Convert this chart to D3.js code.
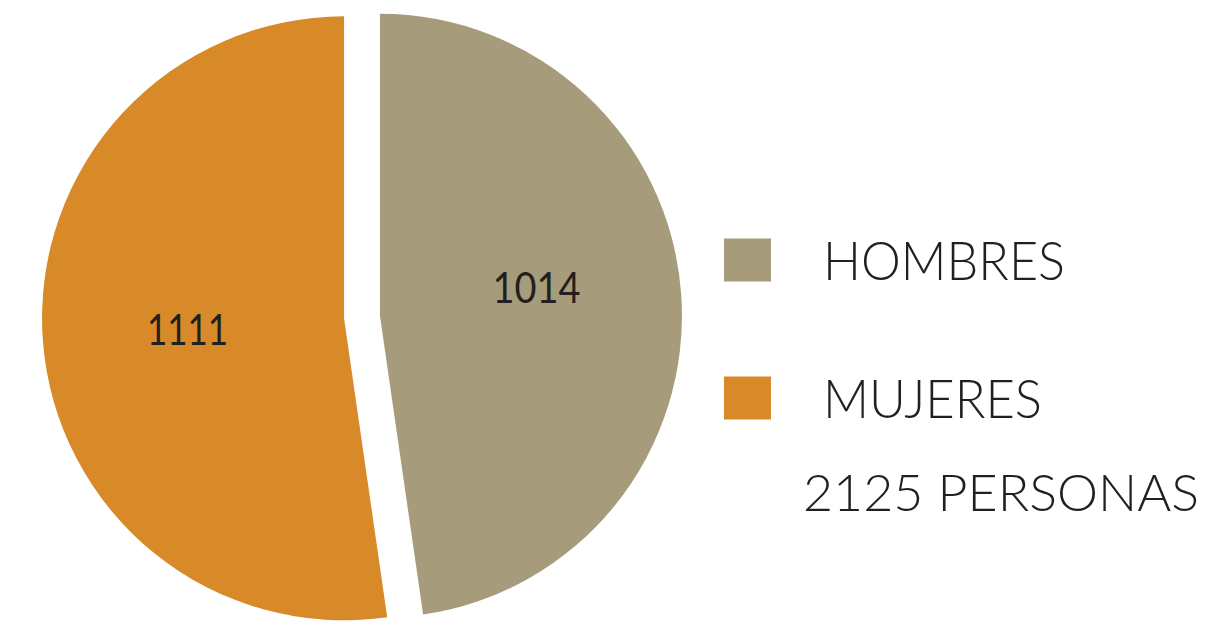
<!DOCTYPE html>
<html>
<head>
<meta charset="utf-8">
<script src="https://cdn.jsdelivr.net/npm/d3@7"></script>
<style>
  body { margin: 0; background: #fff; }
  text { font-family: "Lato", "Open Sans", sans-serif; font-weight: 300; fill: #231f20; }
  text.value { font-weight: 400; }
</style>
</head>
<body>
<div id="chart"></div>
<script>
"use strict";

// data
var categories = ["HOMBRES", "MUJERES"];
var values = [1014, 1111];
var colors = ["#a69b7a", "#d88a28"];
var totalLabel = "2125 PERSONAS";

var width = 1209;
var height = 626;

var svg = d3.select("#chart")
  .append("svg")
    .attr("width", width)
    .attr("height", height);

var cx = 362, cy = 317;
var radius = 302;
var explode = 18;

var pie = d3.pie().sort(null).value(function(d) { return d.value; });
var arc = d3.arc().innerRadius(0).outerRadius(radius);
var labelArc = d3.arc().innerRadius(0).outerRadius(radius * 1.04);

var dataReady = categories.map(function(c, i) {
  return {name: c, value: values[i], color: colors[i]};
});
var arcs = pie(dataReady);

// shift each slice outward along its bisector
function shift(d) {
  var a = (d.startAngle + d.endAngle) / 2;
  return [Math.sin(a) * explode, -Math.cos(a) * explode];
}

var g = svg.append("g")
  .attr("transform", "translate(" + cx + "," + cy + ")");

var slices = g.selectAll("g.slice")
  .data(arcs)
  .enter()
  .append("g")
    .attr("class", "slice")
    .attr("transform", function(d) {
      var s = shift(d);
      return "translate(" + s[0] + "," + s[1] + ")";
    });

slices.append("path")
  .attr("d", arc)
  .style("fill", function(d) { return d.data.color; });

// hombres label sits a bit higher than the bisector
var labelNudge = [-17, 0];
var labelLen = [88, 81];
slices.append("text")
  .attr("class", "value")
  .attr("transform", function(d, i) {
    var c = labelArc.centroid(d);
    return "translate(" + c[0] + "," + (c[1] + labelNudge[i]) + ")";
  })
  .attr("text-anchor", "middle")
  .attr("dy", "0.36em")
  .attr("textLength", function(d, i) { return labelLen[i]; })
  .attr("lengthAdjust", "spacingAndGlyphs")
  .style("font-size", "43px")
  .text(function(d) { return d.data.value; });

// legend
var legend = svg.append("g");
var legendY = d3.scalePoint()
  .domain(categories)
  .range([260, 398]);
var nameLen = [242, 219];

legend.selectAll("rect")
  .data(dataReady)
  .enter()
  .append("rect")
    .attr("x", 724)
    .attr("y", function(d) { return legendY(d.name) - 21.5; })
    .attr("width", 47)
    .attr("height", 43)
    .style("fill", function(d) { return d.color; });

legend.selectAll("text.name")
  .data(dataReady)
  .enter()
  .append("text")
    .attr("class", "name")
    .attr("x", 823)
    .attr("y", function(d) { return legendY(d.name) + 20; })
    .attr("textLength", function(d, i) { return nameLen[i]; })
    .attr("lengthAdjust", "spacingAndGlyphs")
    .style("font-size", "53px")
    .text(function(d) { return d.name; });

legend.append("text")
  .attr("x", 803)
  .attr("y", 511)
  .attr("textLength", 396)
  .attr("lengthAdjust", "spacingAndGlyphs")
  .style("font-size", "52px")
  .text(totalLabel);
</script>
</body>
</html>
